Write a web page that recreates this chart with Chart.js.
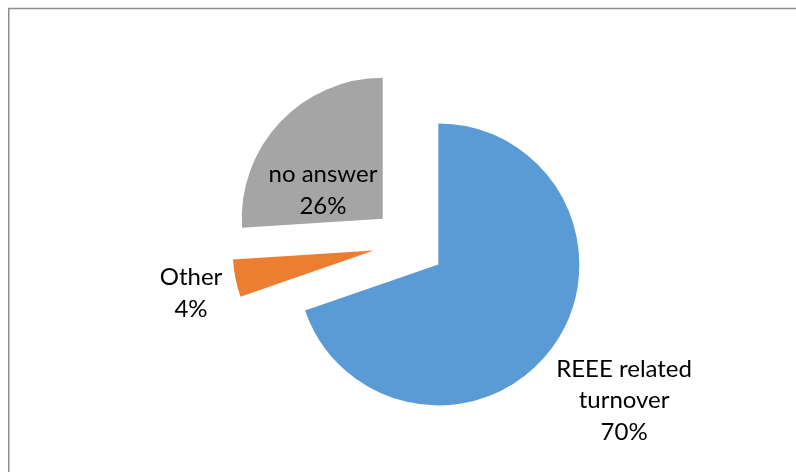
<!DOCTYPE html>
<html>
<head>
<meta charset="utf-8">
<script src="https://cdn.jsdelivr.net/npm/chart.js@4"></script>
<style>
  html, body { margin: 0; padding: 0; background: #ffffff; }
  #wrap { width: 796px; height: 472px; }
</style>
</head>
<body>
<div id="wrap"><canvas id="c" width="796" height="472"></canvas></div>
<script>
// ---- data ----
const categories = ['REEE related turnover', 'Other', 'no answer'];
const labelLines = [['REEE related', 'turnover'], ['Other'], ['no answer']];
const shares = [69.7, 4.3, 26.0];
const sliceColors = ['#5B9BD5', '#ED7D31', '#A5A5A5'];

// label placement: polar position relative to pie centre (deg clockwise from top, fraction of radius)
const labelPlacement = [
  { angle: 126.1, dist: 1.888 },
  { angle: 257.1, dist: 1.586 },
  { angle: 301.8, dist: 0.718 }
];

const EXPLODE = 36;   // px each slice is pulled out along its bisector
const FONT = '24px Lato';
const LINE_H = 31.5;

const frame = {
  id: 'frame',
  beforeDraw(chart) {
    const ctx = chart.ctx;
    ctx.save();
    ctx.fillStyle = '#ffffff';
    ctx.fillRect(0, 0, chart.width, chart.height);
    ctx.strokeStyle = '#8f8f8f';
    ctx.lineWidth = 1.5;
    ctx.beginPath();
    ctx.moveTo(8.75, chart.height + 5);
    ctx.lineTo(8.75, 8.5);
    ctx.lineTo(chart.width + 5, 8.5);
    ctx.stroke();
    ctx.restore();
  }
};

// draw the library's arc elements, each translated outward along its mid-angle
const explodedArcs = {
  id: 'explodedArcs',
  beforeDatasetDraw(chart, args) {
    const ctx = chart.ctx;
    args.meta.data.forEach(arc => {
      const half = (arc.startAngle + arc.endAngle) / 2;
      ctx.save();
      ctx.translate(Math.cos(half) * EXPLODE, Math.sin(half) * EXPLODE);
      arc.draw(ctx, chart.chartArea);
      ctx.restore();
    });
    return false;
  }
};

const sliceLabels = {
  id: 'sliceLabels',
  afterDatasetsDraw(chart) {
    const ctx = chart.ctx;
    const meta = chart.getDatasetMeta(0);
    const data = chart.data.datasets[0].data;
    const total = data.reduce((a, b) => a + b, 0);
    ctx.save();
    ctx.font = FONT;
    ctx.fillStyle = '#000000';
    ctx.textAlign = 'center';
    ctx.textBaseline = 'middle';
    meta.data.forEach((arc, i) => {
      const p = labelPlacement[i];
      const a = p.angle * Math.PI / 180;
      const r = arc.outerRadius * p.dist;
      const cx = arc.x + Math.sin(a) * r;
      const cy = arc.y - Math.cos(a) * r;
      const lines = labelLines[i].concat([Math.round(data[i] / total * 100) + '%']);
      const top = cy - (lines.length - 1) * LINE_H / 2;
      lines.forEach((t, k) => ctx.fillText(t, cx, top + k * LINE_H));
    });
    ctx.restore();
  }
};

new Chart(document.getElementById('c'), {
  type: 'pie',
  data: {
    labels: categories,
    datasets: [{
      data: shares,
      backgroundColor: sliceColors,
      borderWidth: 0,
      offset: 0,
      hoverOffset: 0
    }]
  },
  options: {
    responsive: false,
    animation: false,
    events: [],
    radius: 141,
    layout: { padding: { left: 22, right: 0, top: 15, bottom: 0 } },
    plugins: {
      legend: { display: false },
      tooltip: { enabled: false }
    }
  },
  plugins: [frame, explodedArcs, sliceLabels]
});
</script>
</body>
</html>
